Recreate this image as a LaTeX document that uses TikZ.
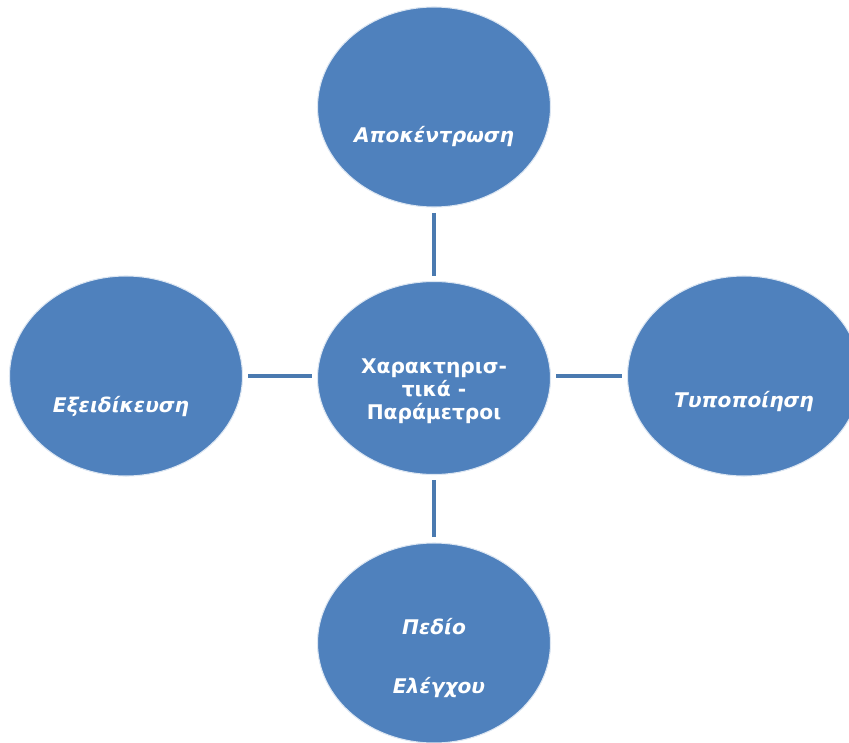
\documentclass[tikz,border=0pt]{standalone}
\usepackage{fontspec}
\setmainfont{DejaVu Sans}
\usetikzlibrary{shapes.geometric,positioning}
\definecolor{cellblue}{HTML}{4F81BD}
\definecolor{linkblue}{HTML}{4A7AB0}

\begin{document}
\begin{tikzpicture}[
  font=\fontsize{11.5}{13}\selectfont,
  topic/.style={ellipse,fill=cellblue,draw=white!80!cellblue,line width=0.6pt,
                minimum width=4.66cm,minimum height=4cm,inner sep=0pt},
  hub/.style={topic,minimum height=3.86cm},
  lbl/.style={text=white,font=\fontsize{11.5}{13}\selectfont\bfseries\itshape,align=center},
  hublbl/.style={text=white,font=\fontsize{11.5}{13}\selectfont\bfseries,align=center},
  link/.style={line width=2.2pt,linkblue,shorten <=3pt,shorten >=3pt},
]
\useasboundingbox (0,0) rectangle (16.98,-14.84);
\clip (0,0) rectangle (16.98,-14.84);

% ---------- ellipses ----------
\node[hub] (centre) at (8.68,-7.56) {};
\node[topic] (top) at (8.68,-2.14) {};
\node[topic] (left) at (2.52,-7.52) {};
\node[topic] (right) at (14.88,-7.52) {};
\node[topic] (bottom) at (8.68,-12.86) {};

% ---------- links ----------
\draw[link] (top) -- (centre);
\draw[link] (bottom) -- (centre);
\draw[link] (left.east) -- (left.east -| centre.west);
\draw[link] (right.west) -- (right.west -| centre.east);

% ---------- labels ----------
\node[hublbl] (centreT) at ([yshift=-2.6mm]centre.center) {Χαρακτηρισ-\\τικά -\\Παράμετροι};
\node[lbl] (topT) at ([yshift=-6mm]top.center) {Αποκέντρωση};
\node[lbl] (leftT) at ([xshift=-1mm,yshift=-6.2mm]left.center) {Εξειδίκευση};
\node[lbl] (rightT) at ([yshift=-5.2mm]right.center) {Τυποποίηση};
\node[lbl] (bottomT) at ([yshift=-3mm]bottom.center) {Πεδίο\\[21pt]\hspace*{2mm}Ελέγχου};

\end{tikzpicture}
\end{document}
